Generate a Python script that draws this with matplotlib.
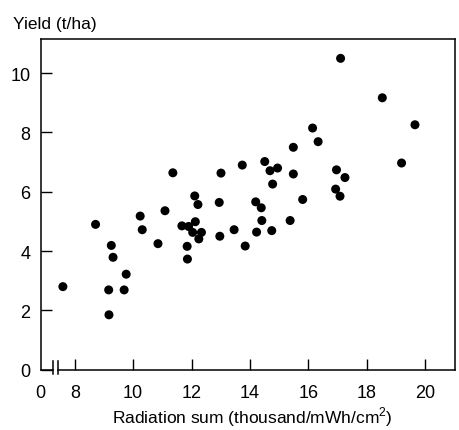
import matplotlib
matplotlib.use("Agg")
import matplotlib.pyplot as plt

plt.rcParams['font.family'] = ['Liberation Sans', 'DejaVu Sans']
plt.rcParams['mathtext.fontset'] = 'custom'
plt.rcParams['mathtext.rm'] = 'Liberation Sans'

radiation = [17.11, 18.54, 19.66, 16.15, 16.34, 15.49,
             19.20, 14.51, 13.74, 14.95, 14.69, 15.49, 16.97, 17.26, 13.01, 11.36,
             14.78, 16.94, 17.09, 15.81, 12.11, 12.22, 12.95, 14.20, 14.39, 11.09,
             10.24, 15.38, 14.41, 8.71, 11.67, 11.90, 12.13, 10.31, 13.46, 14.75,
             14.23, 12.97, 12.04, 12.34, 12.25, 10.85, 9.25, 11.85, 13.84, 9.31,
             11.86, 9.76, 7.59, 9.16, 9.69, 9.17]
yield_t = [10.50, 9.17, 8.26, 8.15, 7.69, 7.50,
           6.97, 7.02, 6.90, 6.80, 6.71, 6.60, 6.74, 6.48, 6.63, 6.64,
           6.26, 6.09, 5.85, 5.74, 5.86, 5.57, 5.64, 5.66, 5.46, 5.36,
           5.18, 5.03, 5.03, 4.90, 4.85, 4.83, 4.99, 4.72, 4.72, 4.69,
           4.64, 4.50, 4.63, 4.63, 4.41, 4.25, 4.19, 4.16, 4.17, 3.79,
           3.73, 3.22, 2.80, 2.69, 2.69, 1.85]

x_ticks = [8, 10, 12, 14, 16, 18, 20]
y_ticks = [0, 2, 4, 6, 8, 10]

XMIN, XMAX = 6.83, 21.03
YMIN, YMAX = 0, 11.15
BREAK1, BREAK2 = 7.26, 7.43

fig = plt.figure(figsize=(4.6, 4.31), dpi=100)
ax = fig.add_axes([0.0885, 0.140, 0.9005, 0.767])

ax.scatter(radiation, yield_t, s=42, color='black', edgecolors='none', zorder=3)

ax.set_xlim(XMIN, XMAX)
ax.set_ylim(YMIN, YMAX)

ax.set_xticks([XMIN] + x_ticks)
ax.set_xticklabels(['0'] + [str(t) for t in x_ticks])
ax.xaxis.get_major_ticks()[0].tick1line.set_visible(False)
ax.set_yticks(y_ticks)
ax.set_yticklabels([str(t) for t in y_ticks])

ax.tick_params(axis='both', direction='in', length=8, width=1.0, labelsize=13,
               colors='black')
ax.tick_params(axis='x', pad=10)
ax.tick_params(axis='y', pad=7.5)

for s in ['left', 'top', 'right']:
    ax.spines[s].set_linewidth(1.1)
ax.spines['bottom'].set_visible(False)

# broken bottom axis
ax.plot([XMIN, BREAK1], [0, 0], color='black', lw=1.1, clip_on=False, zorder=4)
ax.plot([BREAK2, XMAX], [0, 0], color='black', lw=1.1, clip_on=False, zorder=4)
for b in (BREAK1, BREAK2):
    ax.plot([b, b], [-0.15, 0.30], color='black', lw=1.1, clip_on=False, zorder=4)

fig.text(13 / 460, 1 - 24 / 431, 'Yield (t/ha)', fontsize=12.5, ha='left', va='center')
fig.text(252 / 460, 1 - 417 / 431, 'Radiation sum (thousand/mWh/cm$^2$)',
         fontsize=12.5, ha='center', va='center')

fig.savefig('out.png', dpi=100)
